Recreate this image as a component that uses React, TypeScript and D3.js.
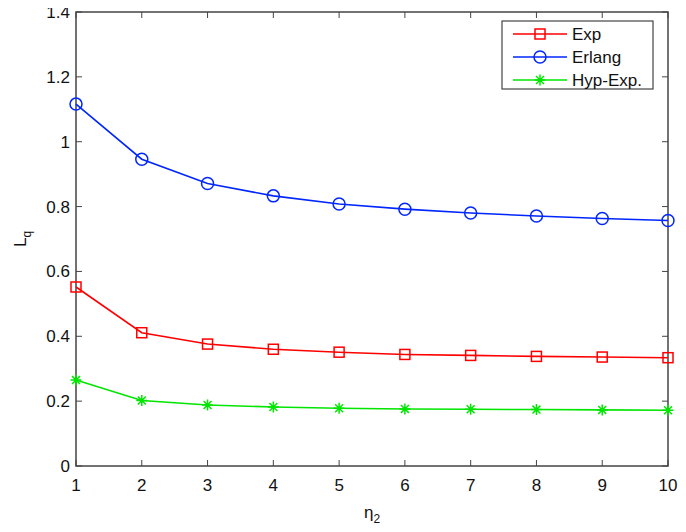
import React, { useRef, useEffect } from 'react';
import * as d3 from 'd3';

const etaValues = [1, 2, 3, 4, 5, 6, 7, 8, 9, 10];
const expValues = [0.552, 0.411, 0.376, 0.36, 0.351, 0.344, 0.341, 0.338, 0.336, 0.334];
const erlangValues = [1.116, 0.946, 0.871, 0.833, 0.808, 0.792, 0.78, 0.771, 0.763, 0.757];
const hypExpValues = [0.265, 0.202, 0.188, 0.182, 0.178, 0.176, 0.175, 0.174, 0.173, 0.172];
const yTicks = [0, 0.2, 0.4, 0.6, 0.8, 1, 1.2, 1.4];
const seriesNames = ['Exp', 'Erlang', 'Hyp-Exp.'];
const seriesColors = ['#ff0000', '#0026ff', '#00e600'];
const seriesMarkers = ['square', 'circle', 'star'];

const W = 686;
const H = 532;

const drawMarker = (g, kind, x, y, color) => {
  if (kind === 'square') {
    g.append('rect')
      .attr('x', x - 5).attr('y', y - 5)
      .attr('width', 10).attr('height', 10)
      .attr('fill', 'none').attr('stroke', color).attr('stroke-width', 1.5);
  } else if (kind === 'circle') {
    g.append('circle')
      .attr('cx', x).attr('cy', y).attr('r', 6)
      .attr('fill', 'none').attr('stroke', color).attr('stroke-width', 1.5);
  } else {
    const r = 5.5;
    const p = d3.path();
    p.moveTo(x - r, y); p.lineTo(x + r, y);
    p.moveTo(x, y - r); p.lineTo(x, y + r);
    const d = r * 0.72;
    p.moveTo(x - d, y - d); p.lineTo(x + d, y + d);
    p.moveTo(x - d, y + d); p.lineTo(x + d, y - d);
    g.append('path').attr('d', p.toString())
      .attr('stroke', color).attr('stroke-width', 1.5).attr('fill', 'none');
  }
};

const LqChart = () => {
  const ref = useRef(null);

  useEffect(() => {
    const svg = d3.select(ref.current);
    svg.selectAll('*').remove();

    const left = 76, right = 668, top = 12, bottom = 466;
    const x = d3.scaleLinear().domain([1, 10]).range([left, right]);
    const y = d3.scaleLinear().domain([0, 1.4]).range([bottom, top]);
    const axisColor = '#444';
    const font = 'Liberation Sans, Arial, sans-serif';

    svg.append('rect').attr('width', W).attr('height', H).attr('fill', '#fff');

    // ticks (inside, on all four sides)
    const tl = 6;
    etaValues.forEach(v => {
      svg.append('line').attr('x1', x(v)).attr('x2', x(v)).attr('y1', bottom).attr('y2', bottom - tl)
        .attr('stroke', axisColor);
      svg.append('line').attr('x1', x(v)).attr('x2', x(v)).attr('y1', top).attr('y2', top + tl)
        .attr('stroke', axisColor);
      svg.append('text').attr('x', x(v)).attr('y', bottom + 25)
        .attr('text-anchor', 'middle').attr('font-family', font).attr('font-size', 17)
        .attr('fill', '#111').text(v);
    });
    yTicks.forEach(v => {
      svg.append('line').attr('x1', left).attr('x2', left + tl).attr('y1', y(v)).attr('y2', y(v))
        .attr('stroke', axisColor);
      svg.append('line').attr('x1', right).attr('x2', right - tl).attr('y1', y(v)).attr('y2', y(v))
        .attr('stroke', axisColor);
      svg.append('text').attr('x', left - 6).attr('y', y(v) + 6)
        .attr('text-anchor', 'end').attr('font-family', font).attr('font-size', 17)
        .attr('fill', '#111').text(d3.format('~g')(v));
    });

    svg.append('rect').attr('x', left).attr('y', top)
      .attr('width', right - left).attr('height', bottom - top)
      .attr('fill', 'none').attr('stroke', axisColor).attr('stroke-width', 1.5);

    // series
    const allSeries = [expValues, erlangValues, hypExpValues];
    allSeries.forEach((vals, i) => {
      const line = d3.line().x((d, j) => x(etaValues[j])).y(d => y(d));
      svg.append('path').datum(vals).attr('d', line)
        .attr('fill', 'none').attr('stroke', seriesColors[i]).attr('stroke-width', 1.6);
      const g = svg.append('g');
      vals.forEach((v, j) => drawMarker(g, seriesMarkers[i], x(etaValues[j]), y(v), seriesColors[i]));
    });

    // axis labels
    const xl = svg.append('text').attr('x', (left + right) / 2).attr('y', 518)
      .attr('text-anchor', 'middle').attr('font-family', font).attr('font-size', 17).attr('fill', '#111');
    xl.append('tspan').text('η');
    xl.append('tspan').attr('font-size', 12).attr('dy', 5).text('2');

    const yl = svg.append('text').attr('transform', `translate(26, ${(top + bottom) / 2}) rotate(-90)`)
      .attr('text-anchor', 'middle').attr('font-family', font).attr('font-size', 17).attr('fill', '#111');
    yl.append('tspan').text('L');
    yl.append('tspan').attr('font-size', 12).attr('dy', 5).text('q');

    // legend
    const lg = svg.append('g');
    lg.append('rect').attr('x', 502).attr('y', 21).attr('width', 151).attr('height', 68)
      .attr('fill', '#fff').attr('stroke', axisColor).attr('stroke-width', 1.2);
    seriesNames.forEach((name, i) => {
      const ly = 34 + i * 23;
      lg.append('line').attr('x1', 513).attr('x2', 567).attr('y1', ly).attr('y2', ly)
        .attr('stroke', seriesColors[i]).attr('stroke-width', 1.6);
      drawMarker(lg, seriesMarkers[i], 540, ly, seriesColors[i]);
      lg.append('text').attr('x', 572).attr('y', ly + 6).attr('font-family', font)
        .attr('font-size', 17).attr('fill', '#111').text(name);
    });

    return () => { svg.selectAll('*').remove(); };
  }, []);

  return <svg ref={ref} width={W} height={H} style={{ display: 'block' }}></svg>;
};

export default function App() {
  return (
    <div style={{ margin: -8 }}>
      <LqChart />
    </div>
  );
}
